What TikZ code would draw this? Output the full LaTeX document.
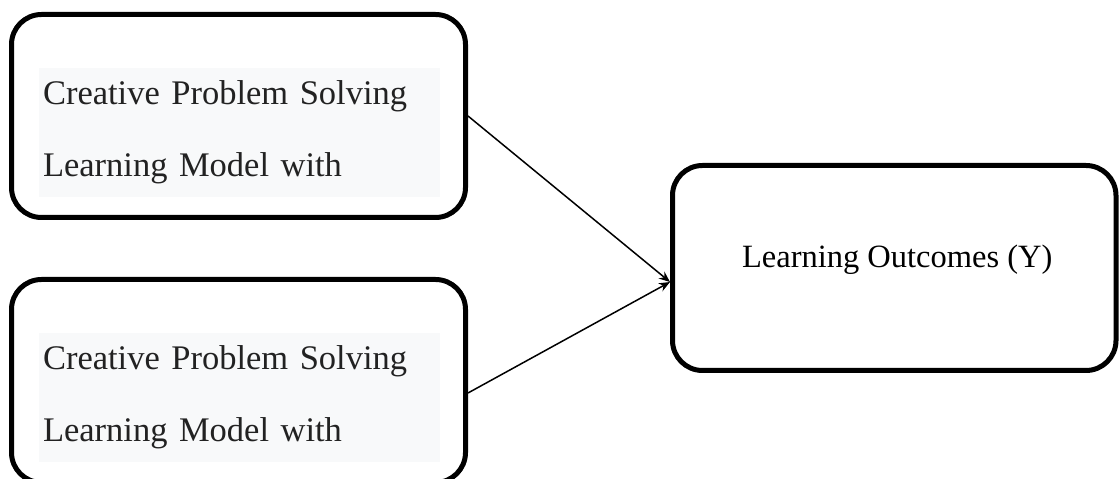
\documentclass[tikz,border=0pt]{standalone}
\usepackage{fontspec}
\setmainfont{Liberation Serif}
\usetikzlibrary{arrows.meta, positioning}
\definecolor{boxtext}{RGB}{248,249,250}
\definecolor{darkink}{RGB}{34,34,34}

\begin{document}
\begin{tikzpicture}[x=1pt, y=1pt,
    frame/.style={draw, line width=5pt, rounded corners=30pt, minimum width=454pt, minimum height=203pt, inner sep=0pt},
    varlabel/.style={fill=boxtext, text=darkink, text width=393pt, inner xsep=4pt, inner ysep=13pt, align=left,
      font=\fontsize{34.5}{72}\selectfont},
    link/.style={-{Stealth[length=11pt, width=9pt]}, line width=1.5pt}]
  \useasboundingbox (0,0) rectangle (1120,479);
  % independent variables
  \node[frame] (cpsa) at (238.5,363) {};
  \node[frame] (cpsb) at (238.5,98) {};
  \node[varlabel] (cpsatext) at (239.5,346.5) {Creative Problem Solving\\Learning Model with};
  \node[varlabel] (cpsbtext) at (239.5,81.5) {Creative Problem Solving\\Learning Model with};
  % dependent variable
  \node[frame, minimum width=443.5pt, minimum height=205pt, text height=20pt, text depth=20pt,
    font=\fontsize{32.5}{38}\selectfont] (out) at (894.25,211) {\hspace*{6pt}Learning Outcomes (Y)};
  \draw[link] (cpsa.east) -- ([yshift=-14pt]out.west);
  \draw[link] ([yshift=-12pt]cpsb.east) -- ([yshift=-14pt]out.west);
\end{tikzpicture}
\end{document}
